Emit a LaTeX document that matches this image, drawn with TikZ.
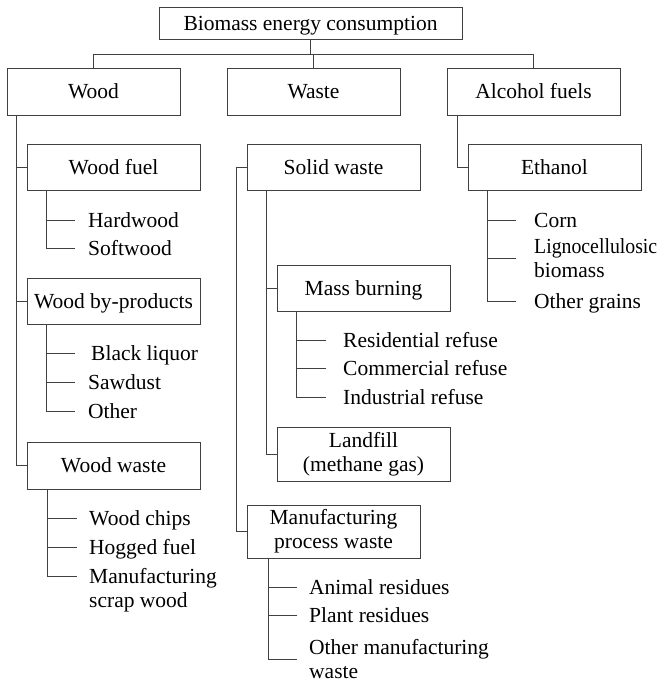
\documentclass[tikz,border=0pt]{standalone}
\usepackage{fontspec}
\usepackage{graphicx}
\setmainfont{Liberation Serif}
\begin{document}
\begin{tikzpicture}[x=1pt,y=-1pt,
  every node/.style={font=\fontsize{21.5}{24}\selectfont},
  box/.style={draw=black!75,line width=1pt,minimum width=173pt,minimum height=46pt,inner sep=0pt,text height=14pt,text depth=0pt},
  boxtwo/.style={draw=black!75,line width=1pt,minimum width=173pt,minimum height=53pt,inner sep=0pt,align=center},
  leaf/.style={anchor=west,inner sep=0pt,text height=14pt,text depth=0pt},
  leaftwo/.style={anchor=west,inner sep=0pt,align=left},
  link/.style={draw=black!75,line width=1pt}]
\useasboundingbox (0,0) rectangle (669,683);
% boxes
\node[box,minimum width=303pt,minimum height=32pt] (top) at (310.5,23) {Biomass energy consumption};
\node[box,minimum height=47pt] (wood) at (93.5,91.5) {Wood};
\node[box,minimum height=47pt] (waste) at (313.5,91.5) {Waste};
\node[box,minimum height=47pt] (alc) at (533.5,91.5) {Alcohol fuels};
\node[box] (wfuel) at (113.5,167) {Wood fuel};
\node[box] (wbyp) at (113.5,301) {Wood by-products};
\node[box,minimum height=47pt] (wwaste) at (113.5,465.5) {Wood waste};
\node[box] (solid) at (333.5,167) {Solid waste};
\node[box] (mass) at (363.5,288) {Mass burning};
\node[boxtwo,minimum height=54pt] (landfill) at (363.5,454) {Landfill\\(methane gas)};
\node[boxtwo] (mpw) at (333.5,531.5) {Manufacturing\\process waste};
\node[box] (eth) at (554.5,167) {Ethanol};
% leaves
\node[leaf] (hard) at (88,220) {Hardwood};
\node[leaf] (soft) at (88,248) {Softwood};
\node[leaf] (black) at (91,353) {Black liquor};
\node[leaf] (saw) at (88,382) {Sawdust};
\node[leaf] (other) at (88,411) {Other};
\node[leaf] (chips) at (89,518) {Wood chips};
\node[leaf] (hog) at (89,547) {Hogged fuel};
\node[leaf] (manu) at (89,576) {Manufacturing};
\node[leaf] (scrap) at (89,600) {scrap wood};
\node[leaf] (resid) at (343,340) {Residential refuse};
\node[leaf] (comm) at (343,368) {Commercial refuse};
\node[leaf] (indus) at (343,397) {Industrial refuse};
\node[leaf] (animal) at (309,587) {Animal residues};
\node[leaf] (plant) at (309,615) {Plant residues};
\node[leaftwo] (othman) at (309,659) {Other manufacturing\\waste};
\node[leaf] (corn) at (534,220) {Corn};
\node[leaftwo] (ligno) at (534,258) {\scalebox{0.92}[1]{Lignocellulosic}\\biomass};
\node[leaf] (grains) at (534,301) {Other grains};
% top level
\draw[link] (top.south) -- ++(0,15) coordinate (bus);
\draw[link] (wood.north) |- (bus) -| (alc.north);
\draw[link] (waste.north) -- (waste.north |- bus);
% wood branch
\draw[link] ([xshift=10pt]wood.south west) |- (wwaste.west);
\draw[link] (wfuel.west) -- ++(-10,0);
\draw[link] (wbyp.west) -- ++(-10,0);
\coordinate (wft) at ([xshift=20pt]wfuel.south west);
\draw[link] (wft) |- ([xshift=-13pt]soft.west);
\draw[link] ([xshift=-13pt]hard.west) -- (hard.west -| wft);
\coordinate (wbt) at ([xshift=20pt]wbyp.south west);
\draw[link] (wbt) |- ([xshift=-13pt]other.west);
\draw[link] ([xshift=-16pt]black.west) -- (black.west -| wbt);
\draw[link] ([xshift=-13pt]saw.west) -- (saw.west -| wbt);
\coordinate (wwt) at ([xshift=21pt]wwaste.south west);
\draw[link] (wwt) |- ([xshift=-12pt]manu.west);
\draw[link] ([xshift=-12pt]chips.west) -- (chips.west -| wwt);
\draw[link] ([xshift=-12pt]hog.west) -- (hog.west -| wwt);
% waste branch
\draw[link] (solid.west) -- ++(-10,0) |- (mpw.west);
\draw[link] ([xshift=20pt]solid.south west) |- (landfill.west);
\draw[link] (mass.west) -- ++(-10,0);
\coordinate (mbt) at ([xshift=20pt]mass.south west);
\draw[link] (mbt) |- ([xshift=-17pt]indus.west);
\draw[link] ([xshift=-17pt]resid.west) -- (resid.west -| mbt);
\draw[link] ([xshift=-17pt]comm.west) -- (comm.west -| mbt);
\coordinate (mpt) at ([xshift=22pt]mpw.south west);
\draw[link] (mpt) |- ([xshift=-12pt]othman.west);
\draw[link] ([xshift=-12pt]animal.west) -- (animal.west -| mpt);
\draw[link] ([xshift=-12pt]plant.west) -- (plant.west -| mpt);
% alcohol branch
\draw[link] ([xshift=11pt]alc.south west) |- (eth.west);
\coordinate (et) at ([xshift=20pt]eth.south west);
\draw[link] (et) |- ([xshift=-18pt]grains.west);
\draw[link] ([xshift=-18pt]corn.west) -- (corn.west -| et);
\draw[link] ([xshift=-18pt]ligno.west) -- (ligno.west -| et);
\end{tikzpicture}
\end{document}
